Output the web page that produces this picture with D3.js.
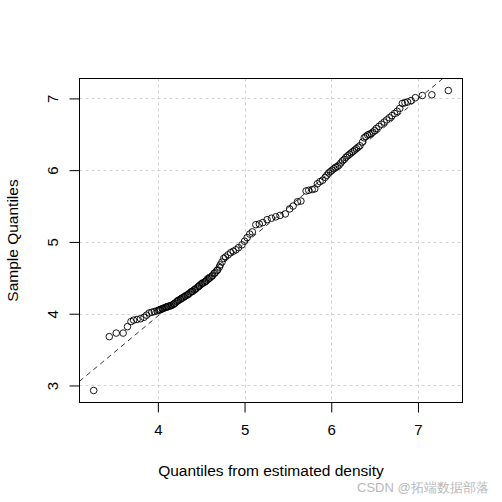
<!DOCTYPE html>
<html>
<head>
<meta charset="utf-8">
<script src="https://cdn.jsdelivr.net/npm/d3@7"></script>
<style>
  body { margin: 0; background: #fff; }
  text { font-family: "Liberation Sans", Arial, sans-serif; }
</style>
</head>
<body>
<svg id="qq" width="502" height="502"></svg>
<script>
// theoretical quantiles (x) and sample quantiles (y)
var theo = [3.26, 3.44, 3.52, 3.60, 3.65, 3.69, 3.72, 3.76, 3.80, 3.84, 3.87, 3.90, 3.93, 3.96, 3.99,
  4.01, 4.02, 4.03, 4.05, 4.06, 4.07, 4.09, 4.10, 4.11, 4.12, 4.14, 4.15, 4.16, 4.18, 4.19, 4.20,
  4.22, 4.23, 4.24, 4.26, 4.27, 4.28, 4.30, 4.31, 4.32, 4.34, 4.35, 4.36, 4.38, 4.39, 4.40, 4.42,
  4.43, 4.44, 4.46, 4.47, 4.48, 4.50, 4.51, 4.52, 4.54, 4.55, 4.56, 4.58, 4.59, 4.60, 4.62, 4.63,
  4.65, 4.66, 4.68, 4.69, 4.71, 4.72, 4.74,
  4.76, 4.78, 4.81, 4.84, 4.87, 4.90, 4.93, 4.97, 5.00, 5.03, 5.06, 5.09, 5.13, 5.17, 5.21,
  5.26, 5.31, 5.36, 5.41, 5.47, 5.52, 5.56, 5.61, 5.65, 5.71, 5.74, 5.78, 5.81, 5.84, 5.87, 5.90,
  5.93, 5.95, 5.97, 5.99, 6.01, 6.03, 6.05, 6.07, 6.09, 6.11, 6.13, 6.15, 6.17, 6.19, 6.21, 6.23,
  6.25, 6.27, 6.29, 6.31, 6.33, 6.36, 6.38, 6.40, 6.42, 6.44, 6.46, 6.48, 6.50, 6.52, 6.55, 6.58,
  6.61, 6.64, 6.67, 6.70, 6.73, 6.76, 6.79, 6.82, 6.85, 6.88, 6.92, 6.97, 7.05, 7.16, 7.35];
var samp = [2.93, 3.68, 3.73, 3.73, 3.82, 3.89, 3.91, 3.92, 3.93, 3.95, 3.98, 4.01, 4.02, 4.03, 4.04,
  4.05, 4.05, 4.06, 4.07, 4.07, 4.08, 4.09, 4.09, 4.10, 4.10, 4.11, 4.11, 4.12, 4.13, 4.14, 4.15,
  4.17, 4.18, 4.19, 4.20, 4.21, 4.22, 4.23, 4.24, 4.25, 4.26, 4.27, 4.28, 4.30, 4.31, 4.31, 4.33,
  4.34, 4.35, 4.37, 4.38, 4.39, 4.41, 4.42, 4.43, 4.44, 4.45, 4.46, 4.48, 4.49, 4.50, 4.52, 4.53,
  4.56, 4.57, 4.60, 4.61, 4.65, 4.68, 4.72,
  4.77, 4.79, 4.82, 4.85, 4.87, 4.89, 4.92, 4.96, 5.01, 5.06, 5.11, 5.14, 5.24, 5.25, 5.27,
  5.31, 5.33, 5.35, 5.37, 5.39, 5.46, 5.50, 5.56, 5.57, 5.71, 5.72, 5.73, 5.74, 5.81, 5.84, 5.86,
  5.90, 5.93, 5.96, 5.98, 6.00, 6.02, 6.04, 6.05, 6.07, 6.10, 6.13, 6.15, 6.18, 6.20, 6.22, 6.24,
  6.26, 6.28, 6.30, 6.32, 6.34, 6.39, 6.45, 6.47, 6.49, 6.50, 6.51, 6.53, 6.55, 6.58, 6.61, 6.64,
  6.67, 6.70, 6.73, 6.76, 6.79, 6.82, 6.86, 6.93, 6.94, 6.95, 6.97, 7.01, 7.04, 7.05, 7.11];
var xTicks = [4, 5, 6, 7];
var yTicks = [3, 4, 5, 6, 7];
// reference line y = a + b*x
var lineA = -0.06;
var lineB = 1.007;

var svg = d3.select('#qq');
var pLeft = 79.5, pRight = 462.5, pTop = 78.5, pBottom = 402.5;

// R style 4% padding around the data range
var xr = d3.extent(theo), yr = d3.extent(samp);
var xp = (xr[1] - xr[0]) * 0.04, yp = (yr[1] - yr[0]) * 0.04;
var x = d3.scaleLinear().domain([xr[0] - xp, xr[1] + xp]).range([pLeft, pRight]);
var y = d3.scaleLinear().domain([yr[0] - yp, yr[1] + yp]).range([pBottom, pTop]);

// grid
svg.append('g').selectAll('line').data(xTicks).enter().append('line')
    .attr('x1', function(d) { return Math.round(x(d)) + 0.5; })
    .attr('x2', function(d) { return Math.round(x(d)) + 0.5; })
    .attr('y1', pTop).attr('y2', pBottom)
    .attr('stroke', '#d3d3d3').attr('stroke-dasharray', '3,3');
svg.append('g').selectAll('line').data(yTicks).enter().append('line')
    .attr('y1', function(d) { return Math.round(y(d)) + 0.5; })
    .attr('y2', function(d) { return Math.round(y(d)) + 0.5; })
    .attr('x1', pLeft).attr('x2', pRight)
    .attr('stroke', '#d3d3d3').attr('stroke-dasharray', '3,3');

// reference line, clipped to the plot region
svg.append('clipPath').attr('id', 'clip').append('rect')
    .attr('x', pLeft).attr('y', pTop).attr('width', pRight - pLeft).attr('height', pBottom - pTop);
var xd = x.domain();
svg.append('line')
    .attr('clip-path', 'url(#clip)')
    .attr('x1', x(xd[0])).attr('y1', y(lineA + lineB * xd[0]))
    .attr('x2', x(xd[1])).attr('y2', y(lineA + lineB * xd[1]))
    .attr('stroke', '#000').attr('stroke-width', 0.8).attr('stroke-dasharray', '5,4');

// points
svg.append('g').selectAll('circle').data(theo).enter().append('circle')
    .attr('cx', function(d) { return x(d); })
    .attr('cy', function(d, i) { return y(samp[i]); })
    .attr('r', 3.3)
    .attr('fill', 'none').attr('stroke', '#000').attr('stroke-width', 0.9);

// box
svg.append('rect').attr('x', pLeft).attr('y', pTop)
    .attr('width', pRight - pLeft).attr('height', pBottom - pTop)
    .attr('fill', 'none').attr('stroke', '#000');

// axes
var xAxis = d3.axisBottom(x).tickValues(xTicks).tickSize(10).tickPadding(12).tickFormat(d3.format('d'));
var gx = svg.append('g').attr('transform', 'translate(0,' + pBottom + ')').call(xAxis);
gx.select('.domain').remove();
gx.selectAll('text').attr('font-size', 15).attr('font-family', '"Liberation Sans", Arial, sans-serif').attr('fill', '#000');

var yAxis = d3.axisLeft(y).tickValues(yTicks).tickSize(10).tickFormat(d3.format('d'));
var gy = svg.append('g').attr('transform', 'translate(' + pLeft + ',0)').call(yAxis);
gy.select('.domain').remove();
gy.selectAll('text')
    .attr('font-size', 15).attr('font-family', '"Liberation Sans", Arial, sans-serif').attr('fill', '#000')
    .attr('x', null).attr('dy', null)
    .attr('text-anchor', 'middle')
    .attr('transform', 'translate(-27,0) rotate(-90)')
    .attr('y', 5);

// titles
svg.append('text').attr('x', (pLeft + pRight) / 2).attr('y', 476)
    .attr('text-anchor', 'middle').attr('font-size', 15.5)
    .text('Quantiles from estimated density');
svg.append('text').attr('transform', 'translate(18,' + (pTop + pBottom) / 2 + ') rotate(-90)')
    .attr('text-anchor', 'middle').attr('font-size', 15.5)
    .text('Sample Quantiles');

// watermark
svg.append('text').attr('x', 357).attr('y', 492).attr('font-size', 13)
    .attr('fill', '#b8b8b8')
    .text('CSDN @拓端数据部落');
</script>
</body>
</html>
